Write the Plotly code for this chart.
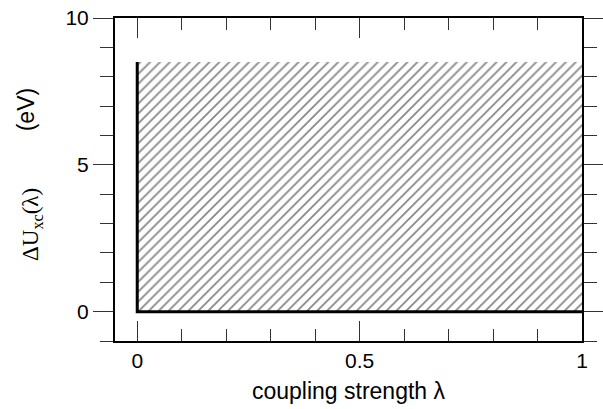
import plotly.graph_objects as go

# coupling strength range and the upper edge of the shaded area (eV)
lam = [0.0, 1.0]
du_xc = [8.5, 8.5]
base = [0.0, 0.0]

x_ticks = [0, 0.5, 1]
x_labels = ['0', '0.5', '1']
y_ticks = [0, 5, 10]
y_labels = ['0', '5', '10']

SANS = 'Liberation Sans, Arial, sans-serif'
SERIF = 'Liberation Serif, Times New Roman, serif'

fig = go.Figure()

# hatched region between baseline and upper edge
poly_x = [lam[0]] + lam + lam[::-1]
poly_y = [base[0]] + du_xc + base[::-1]
fig.add_trace(go.Scatter(
    x=poly_x, y=poly_y, mode='lines', fill='toself',
    line=dict(width=0, color='rgba(0,0,0,0)'),
    fillcolor='white',
    fillpattern=dict(shape='/', fgcolor='#111111', bgcolor='white',
                     size=7, solidity=0.26),
    hoverinfo='skip', showlegend=False,
))

# thick L-shaped boundary: vertical at lambda=0 and baseline
fig.add_trace(go.Scatter(
    x=[lam[0], lam[0], lam[-1]], y=[du_xc[0], base[0], base[-1]],
    mode='lines', line=dict(color='black', width=3),
    hoverinfo='skip', showlegend=False,
))

fig.update_layout(
    width=603, height=409,
    margin=dict(l=115, r=21, t=18, b=68),
    paper_bgcolor='white', plot_bgcolor='white',
    font=dict(family=SANS, size=21, color='black'),
    showlegend=False,
    annotations=[
        dict(xref='paper', yref='paper', x=-0.19, y=0.715,
             xanchor='center', yanchor='middle',
             text='(eV)', textangle=-90, showarrow=False,
             font=dict(family=SANS, size=23, color='black')),
        dict(xref='paper', yref='paper', x=-0.178, y=0.362,
             xanchor='center', yanchor='middle',
             text='ΔU<sub>xc</sub>(λ)', textangle=-90, showarrow=False,
             font=dict(family=SERIF, size=23, color='black')),
    ],
)

fig.update_xaxes(
    range=[-0.05, 1], tickvals=x_ticks, ticktext=x_labels,
    ticks='inside', ticklen=20, tickwidth=1, tickcolor='#333',
    minor=dict(dtick=0.1, ticks='inside', ticklen=12, tickwidth=1,
               tickcolor='#333', showgrid=False),
    showline=True, linecolor='black', linewidth=2, mirror='allticks',
    showgrid=False, zeroline=False, automargin=False,
    tickfont=dict(size=21), ticklabelstandoff=0, ticklabeloverflow='allow',
    title=dict(text='coupling strength λ', font=dict(size=23), standoff=12),
)
fig.update_yaxes(
    range=[-1, 10], tickvals=y_ticks, ticktext=y_labels,
    ticks='outside', ticklen=20, tickwidth=1, tickcolor='#333',
    minor=dict(dtick=1, ticks='outside', ticklen=13, tickwidth=1,
               tickcolor='#333', showgrid=False),
    showline=True, linecolor='black', linewidth=2, mirror='allticks',
    showgrid=False, zeroline=False, automargin=False,
    tickfont=dict(size=21), ticklabelstandoff=0, ticklabeloverflow='allow',
)

# drop the default 8px page margin so the figure fills the window exactly
fig.write_html('out.html', config={'displayModeBar': False},
               post_script="document.body.style.margin='0';")
